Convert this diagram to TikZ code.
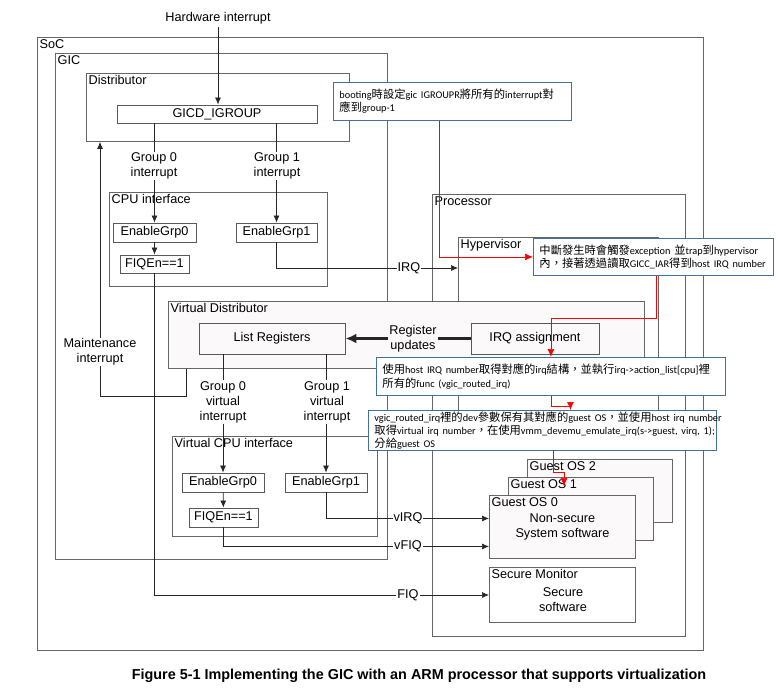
\documentclass[tikz,border=0pt]{standalone}
\usepackage{fontspec}
\setmainfont{Liberation Sans}
\newfontfamily\cjk{Noto Sans CJK TC}
\newfontfamily\lat{Carlito}
\usetikzlibrary{arrows.meta}
\definecolor{notblue}{RGB}{65,113,156}
\definecolor{paper}{RGB}{252,249,250}
\newcommand\latn[1]{{\lat\fontsize{10.3}{13.5}\selectfont #1}}

\begin{document}
\begin{tikzpicture}[x=1pt, y=-1pt, font=\fontsize{12.7}{15}\selectfont]
    \tikzset{frame/.style = {draw=black!60, line width=0.9pt, anchor=north west, inner sep=0pt, align=center}}
    \tikzset{ttl/.style = {anchor=north west, inner sep=2.5pt}}
    \tikzset{reg/.style = {draw=black!65, line width=0.9pt, inner sep=0pt, align=center}}
    \tikzset{edge/.style = {draw=black!85, line width=0.7pt, -{Latex[length=7pt, width=6pt]}}}
    \tikzset{tag/.style = {fill=white, inner sep=1pt, align=center}}
    \tikzset{note/.style = {draw=notblue, fill=white, line width=0.9pt, anchor=north west, inner xsep=6pt, inner ysep=1pt, align=left, font=\cjk\fontsize{11.3}{13.2}\selectfont}}
    \tikzset{hint/.style = {draw=red, line width=0.7pt, -{Latex[length=8pt, width=7pt]}}}

    \useasboundingbox (0,0) rectangle (776,694);

    % frames
    \node[frame, minimum width=666pt, minimum height=613pt, label={[ttl]north west:SoC}] (soc) at (37,37) {};
    \node[frame, minimum width=332pt, minimum height=506pt, label={[ttl]north west:GIC}] (gic) at (55,53) {};
    \node[frame, minimum width=263pt, minimum height=68pt, label={[ttl]north west:Distributor}] (dist) at (86,73) {};
    \node[frame, minimum width=218pt, minimum height=94pt, label={[ttl]north west:CPU interface}] (cpuif) at (109,192) {};
    \node[frame, minimum width=253pt, minimum height=442pt, label={[ttl]north west:Processor}] (proc) at (432,194) {};
    \node[frame, minimum width=200pt, minimum height=203pt, label={[ttl]north west:Hypervisor}] (hyp) at (458,237) {};
    \node[frame, fill=paper, minimum width=145pt, minimum height=63pt, label={[ttl]north west:Guest OS 2}] (gos2) at (527,459) {};
    \node[frame, fill=paper, minimum width=145pt, minimum height=63pt, label={[ttl]north west:Guest OS 1}] (gos1) at (508,477) {};
    \node[frame, fill=paper, minimum width=146pt, minimum height=63pt, label={[ttl]north west:Guest OS 0}] (gos0) at (489,495) {Non-secure\\System software};
    \node[frame, minimum width=146pt, minimum height=55pt, label={[ttl]north west:Secure Monitor}] (secmon) at (489,567) {};
    \node[align=center] (smtxt) at (563,600) {Secure\\software};
    \node[frame, fill=paper, minimum width=476pt, minimum height=67pt, label={[ttl]north west:Virtual Distributor}] (vdist) at (168,301) {};
    \node[frame, minimum width=205pt, minimum height=100pt, label={[ttl]north west:Virtual CPU interface}] (vcpu) at (172,436) {};

    % registers
    \node (hw) at (218,18) {Hardware interrupt};
    \node[reg, minimum width=200pt, minimum height=18pt] (gicd) at (217,114) {GICD\_IGROUP};
    \node[reg, minimum width=83pt, minimum height=19pt] (en0) at (154.5,232.5) {EnableGrp0};
    \node[reg, minimum width=81pt, minimum height=19pt] (en1) at (276.5,232.5) {EnableGrp1};
    \node[reg, minimum width=69pt, minimum height=18pt] (fiq) at (154.5,264) {FIQEn==1};
    \node[reg, minimum width=146pt, minimum height=31pt] (lreg) at (272,338.5) {List Registers};
    \node[reg, minimum width=128pt, minimum height=31pt] (irqa) at (535,338.5) {IRQ assignment};
    \node[reg, minimum width=82pt, minimum height=19pt] (ven0) at (223,482.5) {EnableGrp0};
    \node[reg, minimum width=82pt, minimum height=19pt] (ven1) at (326,482.5) {EnableGrp1};
    \node[reg, minimum width=69pt, minimum height=19pt] (vfiq) at (223.5,517.5) {FIQEn==1};
    \coordinate (irqin) at (458,268);

    % signals
    \draw[edge] (hw) -- (hw.south |- gicd.north);
    \draw[edge] (en0.north |- gicd.south) -- (en0);
    \draw[edge] (en1.north |- gicd.south) -- (en1);
    \draw[edge] (en0) -- (fiq);
    \draw[edge] (en1) |- (irqin);
    \draw[edge] (fiq) |- (secmon);
    \draw[edge] ([xshift=18pt]vdist.south west) -- ++(0,27) -| ([xshift=14pt]dist.south west);
    \draw[edge, line width=2.2pt, -{Latex[length=11pt, width=10pt]}] (irqa) -- (lreg);
    \draw[edge] (ven0.north |- lreg.south) -- (ven0);
    \draw[edge] (ven1.north |- lreg.south) -- (ven1);
    \draw[edge] (ven0) -- (vfiq);
    \draw[edge] (ven1) |- ([yshift=8.5pt]gos0.west);
    \draw[edge] (vfiq) |- ([yshift=-19.5pt]gos0.west);

    % signal names
    \node[tag] (g0) at (154,166) {Group 0\\interrupt};
    \node[tag] (g1) at (277,166) {Group 1\\interrupt};
    \node[tag] (irq) at (409,268) {IRQ};
    \node[tag] (mnt) at (100,352) {Maintenance\\interrupt};
    \node[tag, fill=paper] (upd) at (413,338.5) {Register\\updates};
    \node[tag] (vg0) at (223,402) {Group 0\\virtual\\interrupt};
    \node[tag] (vg1) at (327,402) {Group 1\\virtual\\interrupt};
    \node[tag] (virq) at (408,518) {vIRQ};
    \node[tag] (vfiqt) at (408,546) {vFIQ};
    \node[tag] (fiqt) at (408,595) {FIQ};

    % notes
    \node[note, minimum width=238pt, minimum height=38pt, text width=226pt] (box1) at (333,82) {\mbox{\latn{booting}時設定\latn{gic IGROUPR}將所有的\latn{interrupt}對}\\\mbox{應到\latn{group-1}}};
    \node[note, minimum width=240pt, minimum height=37pt, text width=228pt] (box2) at (533,238) {\mbox{中斷發生時會觸發\latn{exception} 並\latn{trap}到\latn{hypervisor}}\\\mbox{內，接著透過讀取\latn{GICC\_IAR}得到\latn{host IRQ number}}};
    \node[note, minimum width=349pt, minimum height=38pt, text width=337pt] (box3) at (376,357) {\mbox{使用\latn{host IRQ number}取得對應的\latn{irq}結構，並執行\latn{irq->action\_list[cpu]}裡}\\\mbox{所有的\latn{func (vgic\_routed\_irq)}}};
    \node[note, minimum width=348pt, minimum height=38pt, text width=336pt] (box4) at (368,410) {\mbox{\latn{vgic\_routed\_irq}裡的\latn{dev}參數保有其對應的\latn{guest OS}，並使用\latn{host irq number}}\\\mbox{取得\latn{virtual irq number}，在使用\latn{vmm\_devemu\_emulate\_irq(s->guest, virq, 1);}}\\\mbox{分給\latn{guest OS}}};
    \coordinate (g1tip) at (564,486);

    % flow
    \draw[hint] ([xshift=-13pt]box1.south) |- (box2.west);
    \draw[hint] ([xshift=3pt]box2.south) -- ++(0,42) -| (box3.north);
    \draw[hint] (box3.south) -- ++(0,10) -| ([xshift=28pt]box4.north);
    \draw[hint] ([xshift=11pt]box4.south) -- ++(0,22) -| (g1tip);

    \node[font=\fontsize{14.4}{16}\selectfont\bfseries] (cap) at (419,676) {Figure 5-1 Implementing the GIC with an ARM processor that supports virtualization};
\end{tikzpicture}
\end{document}
